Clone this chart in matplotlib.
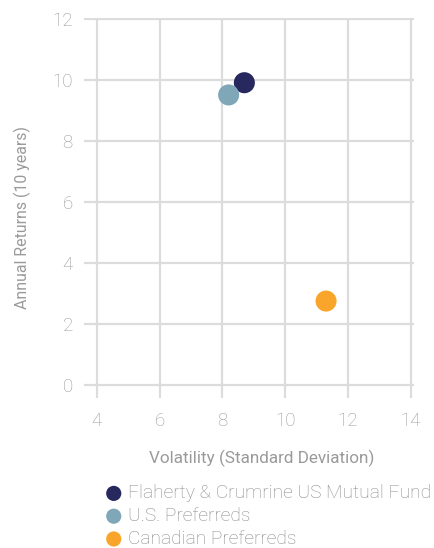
import matplotlib
matplotlib.use('Agg')
import matplotlib.pyplot as plt

names = ['Flaherty & Crumrine US Mutual Fund', 'U.S. Preferreds', 'Canadian Preferreds']
volatility = [8.7, 8.2, 11.3]
returns = [9.9, 9.5, 2.75]
colors = ['#26285e', '#7fa7b7', '#f9a42a']

xticks = [4, 6, 8, 10, 12, 14]
yticks = [0, 2, 4, 6, 8, 10, 12]

plt.rcParams['font.family'] = ['Roboto', 'DejaVu Sans']
plt.rcParams['font.weight'] = 'light'
grey = '#9a9a9a'

fig = plt.figure(figsize=(4.34, 5.48), dpi=100)
ax = fig.add_axes([0.1935, 0.2737, 0.7605, 0.6935])

for n, x, y, c in zip(names, volatility, returns, colors):
    ax.scatter(x, y, s=230, color=c, label=n, zorder=3, edgecolors='none')

ax.set_xlim(3.596, 14.1)
ax.set_ylim(-0.425, 12.02)
ax.set_xticks(xticks)
ax.set_yticks(yticks)
ax.grid(True, color='#dcdcdc', linewidth=1.6)
ax.set_axisbelow(True)
for s in ax.spines.values():
    s.set_visible(False)
ax.tick_params(length=0, labelsize=13.5, labelcolor=grey)
ax.tick_params(axis='x', pad=10)
ax.tick_params(axis='y', pad=8)

ax.set_xlabel('Volatility (Standard Deviation)', fontsize=12.3, color=grey, labelpad=14)
ax.xaxis.label.set_x(0.537)
ax.set_ylabel('Annual Returns (10 years)', fontsize=11.4, color=grey, labelpad=15)
ax.yaxis.label.set_y(0.475)

leg = fig.legend(loc='upper left', bbox_to_anchor=(0.240, 0.116), frameon=False,
                 fontsize=13.8, labelcolor='#8a8a8a', handlelength=1.0,
                 handletextpad=0.25, labelspacing=0.25, markerscale=0.72,
                 borderpad=0, borderaxespad=0)

fig.savefig('out.png', dpi=100)
